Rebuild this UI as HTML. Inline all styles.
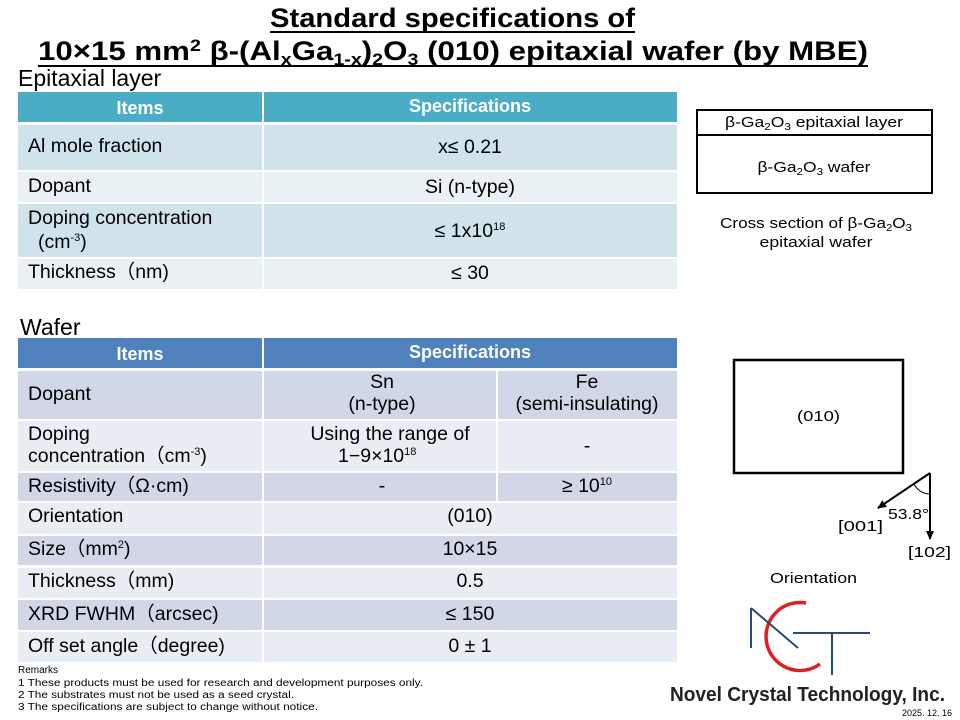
<!DOCTYPE html>
<html><head><meta charset="utf-8"><style>
body{margin:0;background:#fff}
svg{display:block;font-family:"Liberation Sans",sans-serif}
</style></head><body>
<svg width="960" height="720" viewBox="0 0 960 720" xmlns="http://www.w3.org/2000/svg">
<defs><marker id="ah" markerUnits="userSpaceOnUse" markerWidth="10" markerHeight="10" refX="8" refY="5" orient="auto"><path d="M0,1 L9,5 L0,9 z" fill="#000"/></marker></defs>
<!-- Title -->
<g font-weight="bold" font-size="27" fill="#000">
<text x="270" y="27" textLength="365" lengthAdjust="spacingAndGlyphs">Standard specifications of</text>
<line x1="270" y1="32" x2="635" y2="32" stroke="#000" stroke-width="2"/>
<text x="38" y="60" textLength="830" lengthAdjust="spacingAndGlyphs">10×15 mm<tspan font-size="17" dy="-9">2</tspan><tspan dy="9"> β-(Al</tspan><tspan font-size="17" dy="5">x</tspan><tspan dy="-5">Ga</tspan><tspan font-size="17" dy="5">1-x</tspan><tspan dy="-5">)</tspan><tspan font-size="17" dy="5">2</tspan><tspan dy="-5">O</tspan><tspan font-size="17" dy="5">3</tspan><tspan dy="-5"> (010) epitaxial wafer (by MBE)</tspan></text>
<line x1="38" y1="66" x2="868" y2="66" stroke="#000" stroke-width="2"/>
</g>
<text x="18" y="86" font-size="23">Epitaxial layer</text>
<!-- Epi table -->
<rect x="18" y="92" width="659" height="30" fill="#4bacc6"/>
<line x1="263" y1="92" x2="263" y2="122" stroke="#fff" stroke-width="2"/>
<rect x="18" y="125" width="659" height="45" fill="#d0e3ea"/>
<rect x="18" y="172" width="659" height="30" fill="#e9f1f4"/>
<rect x="18" y="204" width="659" height="53" fill="#d0e3ea"/>
<rect x="18" y="259" width="659" height="30" fill="#e9f1f4"/>
<line x1="263" y1="125" x2="263" y2="289" stroke="#fff" stroke-width="2"/>
<g font-size="18" fill="#fff" font-weight="bold" text-anchor="middle">
<text x="140" y="114">Items</text><text x="470" y="112">Specifications</text>
</g>
<g font-size="19.5" fill="#000">
<text x="28" y="152">Al mole fraction</text>
<text x="28" y="192">Dopant</text>
<text x="28" y="224">Doping concentration</text>
<text x="38" y="248">(cm<tspan font-size="11" dy="-7">-3</tspan><tspan dy="7">)</tspan></text>
<text x="28" y="278">Thickness（nm)</text>
</g>
<g font-size="19.5" fill="#000" text-anchor="middle">
<text x="470" y="153">x≤ 0.21</text>
<text x="470" y="193">Si (n-type)</text>
<text x="470" y="237">≤ 1x10<tspan font-size="11" dy="-7">18</tspan></text>
<text x="470" y="279">≤ 30</text>
</g>
<!-- Wafer -->
<text x="20" y="335" font-size="23">Wafer</text>
<rect x="18" y="338" width="659" height="30" fill="#4f81bd"/>
<line x1="263" y1="338" x2="263" y2="368" stroke="#fff" stroke-width="2"/>
<rect x="18" y="371" width="659" height="48" fill="#d0d8e8"/>
<rect x="18" y="421" width="659" height="50" fill="#e9edf4"/>
<rect x="18" y="473" width="659" height="28" fill="#d0d8e8"/>
<rect x="18" y="503" width="659" height="31" fill="#e9edf4"/>
<rect x="18" y="536" width="659" height="29" fill="#d0d8e8"/>
<rect x="18" y="568" width="659" height="30" fill="#e9edf4"/>
<rect x="18" y="600" width="659" height="30" fill="#d0d8e8"/>
<rect x="18" y="632" width="659" height="30" fill="#e9edf4"/>
<line x1="263" y1="371" x2="263" y2="662" stroke="#fff" stroke-width="2"/>
<line x1="497" y1="371" x2="497" y2="501" stroke="#fff" stroke-width="2"/>
<g font-size="18" fill="#fff" font-weight="bold" text-anchor="middle">
<text x="140" y="360">Items</text><text x="470" y="358">Specifications</text>
</g>
<g font-size="19.5" fill="#000">
<text x="28" y="400">Dopant</text>
<text x="28" y="440">Doping</text>
<text x="28" y="462">concentration（cm<tspan font-size="11" dy="-7">-3</tspan><tspan dy="7">)</tspan></text>
<text x="28" y="492">Resistivity（Ω·cm)</text>
<text x="28" y="522">Orientation</text>
<text x="28" y="555">Size（mm<tspan font-size="11" dy="-7">2</tspan><tspan dy="7">)</tspan></text>
<text x="28" y="587">Thickness（mm)</text>
<text x="28" y="620">XRD FWHM（arcsec)</text>
<text x="28" y="652">Off set angle（degree)</text>
</g>
<g font-size="19.5" fill="#000" text-anchor="middle">
<text x="382" y="388">Sn</text><text x="382" y="410">(n-type)</text>
<text x="587" y="388">Fe</text><text x="587" y="410">(semi-insulating)</text>
<text x="390" y="440">Using the range of</text>
<text x="338" y="462" text-anchor="start">1−9×10<tspan font-size="11" dy="-7">18</tspan></text>
<text x="587" y="452">-</text>
<text x="382" y="492">-</text>
<text x="587" y="492">≥ 10<tspan font-size="11" dy="-7">10</tspan></text>
<text x="470" y="522">(010)</text>
<text x="470" y="555">10×15</text>
<text x="470" y="587">0.5</text>
<text x="470" y="620">≤ 150</text>
<text x="470" y="652">0 ± 1</text>
</g>
<g font-size="10" fill="#000">
<text x="18" y="673">Remarks</text>
<text x="18" y="686" textLength="405" lengthAdjust="spacingAndGlyphs">1 These products must be used for research and development purposes only.</text>
<text x="18" y="698" textLength="276" lengthAdjust="spacingAndGlyphs">2 The substrates must not be used as a seed crystal.</text>
<text x="18" y="710" textLength="300" lengthAdjust="spacingAndGlyphs">3 The specifications are subject to change without notice.</text>
</g>
<!-- Cross section -->
<rect x="697" y="110" width="235" height="83" fill="none" stroke="#000" stroke-width="2"/>
<line x1="697" y1="135" x2="932" y2="135" stroke="#000" stroke-width="2"/>
<g font-size="15" fill="#000" text-anchor="middle">
<text x="814" y="127" textLength="178" lengthAdjust="spacingAndGlyphs">β-Ga<tspan font-size="10" dy="3">2</tspan><tspan dy="-3">O</tspan><tspan font-size="10" dy="3">3</tspan><tspan dy="-3"> epitaxial layer</tspan></text>
<text x="814" y="172" textLength="113" lengthAdjust="spacingAndGlyphs">β-Ga<tspan font-size="10" dy="3">2</tspan><tspan dy="-3">O</tspan><tspan font-size="10" dy="3">3</tspan><tspan dy="-3"> wafer</tspan></text>
<text x="816" y="228" textLength="192" lengthAdjust="spacingAndGlyphs">Cross section of β-Ga<tspan font-size="10" dy="3">2</tspan><tspan dy="-3">O</tspan><tspan font-size="10" dy="3">3</tspan></text>
<text x="816" y="247" textLength="113" lengthAdjust="spacingAndGlyphs">epitaxial wafer</text>
</g>
<!-- Orientation -->
<rect x="734" y="360" width="169" height="113" fill="none" stroke="#000" stroke-width="2.5"/>
<text x="797" y="421" font-size="15" textLength="43" lengthAdjust="spacingAndGlyphs">(010)</text>
<line x1="930" y1="473" x2="878" y2="508" stroke="#000" stroke-width="2" marker-end="url(#ah)"/>
<line x1="930" y1="473" x2="930" y2="539" stroke="#000" stroke-width="2" marker-end="url(#ah)"/>
<path d="M914,484 A18,18 0 0 0 930,494" fill="none" stroke="#000" stroke-width="1"/>
<g font-size="15" fill="#000">
<text x="888" y="519" textLength="41" lengthAdjust="spacingAndGlyphs">53.8°</text>
<text x="838" y="531" textLength="45" lengthAdjust="spacingAndGlyphs">[001]</text>
<text x="908" y="557" textLength="43" lengthAdjust="spacingAndGlyphs">[102]</text>
<text x="770" y="583" textLength="87" lengthAdjust="spacingAndGlyphs">Orientation</text>
</g>
<!-- Logo -->
<path d="M806,603 A34,34 0 1 0 820,664" fill="none" stroke="#e02020" stroke-width="3.5"/>
<g stroke="#2a4a75" stroke-width="2" fill="none">
<line x1="751" y1="608" x2="751" y2="648"/>
<line x1="751" y1="608" x2="798" y2="648"/>
<line x1="793" y1="633" x2="870" y2="633"/>
<line x1="832" y1="633" x2="832" y2="675"/>
</g>
<text x="670" y="701" font-size="20" font-weight="bold" fill="#222" textLength="275" lengthAdjust="spacingAndGlyphs">Novel Crystal Technology, Inc.</text>
<text x="952" y="716" font-size="9" text-anchor="end" fill="#000">2025. 12. 16</text>
</svg>
</body></html>
